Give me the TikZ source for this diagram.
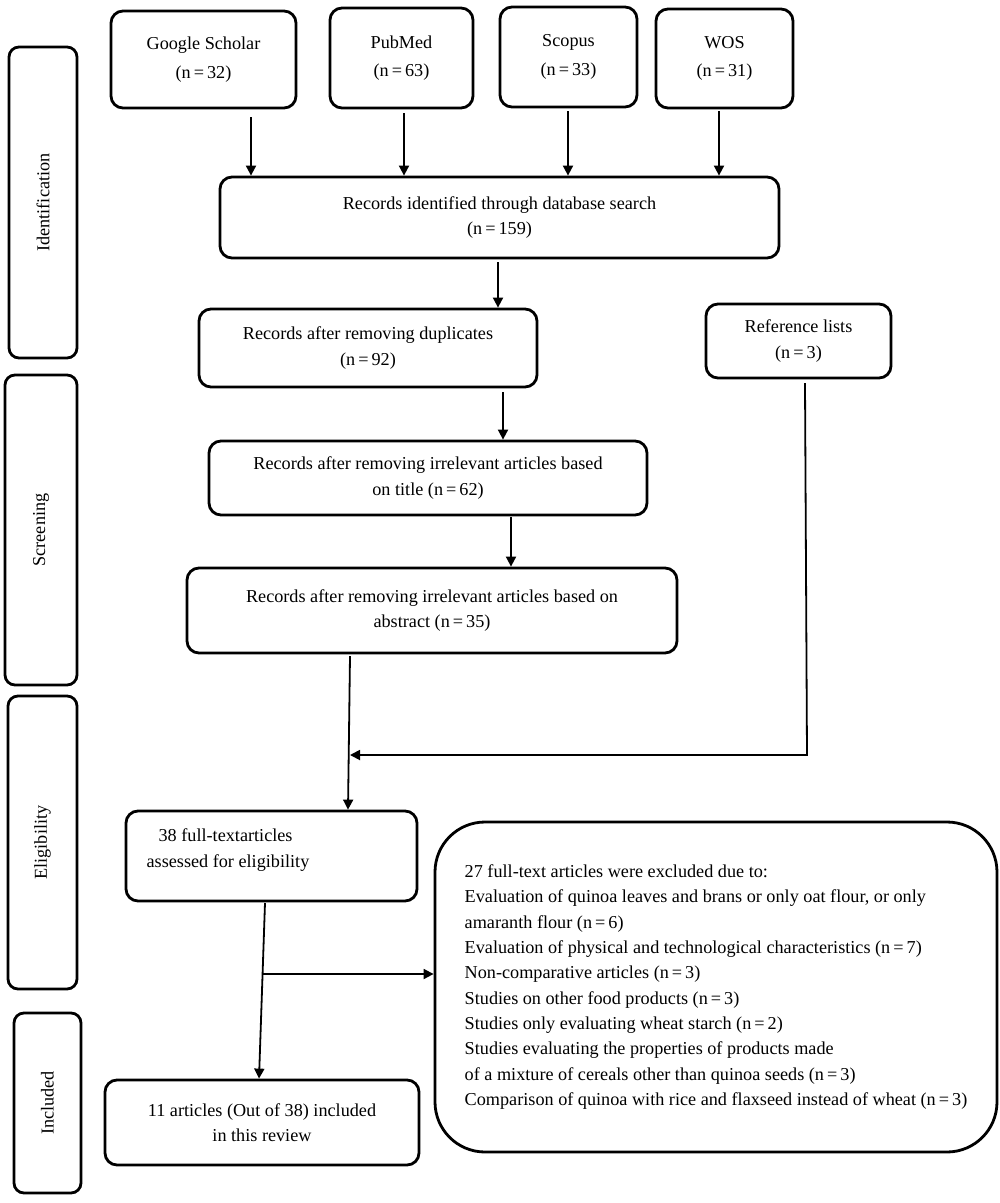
\documentclass[tikz,border=0pt]{standalone}
\usepackage{fontspec}
\setmainfont{Liberation Serif}
\usetikzlibrary{arrows.meta}
\newcommand\fs{\fontsize{18.2}{25.5}\selectfont}
\begin{document}
\begin{tikzpicture}[x=1pt,y=1pt,
  box/.style={draw, line width=2.8pt, rounded corners=12pt, inner sep=0pt, align=center, font=\fs},
  side/.style={box, rounded corners=10pt, rotate=90},
  txt/.style={inner sep=0pt, font=\fs},
  arr/.style={line width=1.8pt, -{Triangle[length=10pt,width=10pt]}},
  conn/.style={line width=1.8pt}
]
\useasboundingbox (0,0) rectangle (1000,-1203);

% stage labels
\node[side, minimum width=311pt, minimum height=68pt] (sid) at (43,-202.5) {Identification};
\node[side, minimum width=310pt, minimum height=72pt] (ssc) at (41,-530) {Screening};
\node[side, minimum width=293pt, minimum height=69pt] (sel) at (42.5,-842.5) {Eligibility};
\node[side, minimum width=180pt, minimum height=67pt] (sin) at (47.5,-1103) {Included};

% sources
\node[box, minimum width=185pt, minimum height=97pt] (gs) at (203.5,-59.5) {Google Scholar\\[3pt](n\,=\,32)};
\node[box, minimum width=143pt, minimum height=100pt] (pm) at (401.5,-58) {PubMed\\[3pt](n\,=\,63)};
\node[box, minimum width=137pt, minimum height=100pt] (sc) at (568.5,-57) {Scopus\\[3pt](n\,=\,33)};
\node[box, minimum width=137pt, minimum height=99pt] (wos) at (724.5,-58.5) {WOS\\[3pt](n\,=\,31)};

% main flow
\node[box, minimum width=559pt, minimum height=81pt] (rid) at (499.5,-217.5) {Records identified through database search\\(n\,=\,159)};
\node[box, minimum width=338pt, minimum height=78pt] (dup) at (368,-348) {Records after removing duplicates\\(n\,=\,92)};
\node[box, minimum width=185pt, minimum height=74pt] (ref) at (798.5,-341) {Reference lists\\(n\,=\,3)};
\node[box, minimum width=438pt, minimum height=74pt] (tit) at (428,-478) {Records after removing irrelevant articles based\\on title (n\,=\,62)};
\node[box, minimum width=490pt, minimum height=85pt] (abs) at (432,-610.5) {Records after removing irrelevant articles based on\\abstract (n\,=\,35)};
\node[box, minimum width=291pt, minimum height=90pt] (full) at (271.5,-856) {};
\node[txt, align=left] (fullt) at (228,-850) {\hspace*{12pt}38 full-textarticles\\assessed for eligibility};
\node[box, minimum width=314pt, minimum height=85pt] (inc) at (262,-1122.5) {11 articles (Out of 38) included\\in this review};
\node[box, rounded corners=50pt, minimum width=562pt, minimum height=330pt, align=left,
      font=\fontsize{18.2}{25.3}\selectfont] (exc) at (716,-987) {27 full-text articles were excluded due to:\\
Evaluation of quinoa leaves and brans or only oat flour, or only\\
amaranth flour (n\,=\,6)\\
Evaluation of physical and technological characteristics (n\,=\,7)\\
Non-comparative articles (n\,=\,3)\\
Studies on other food products (n\,=\,3)\\
Studies only evaluating wheat starch (n\,=\,2)\\
Studies evaluating the properties of products made\\
of a mixture of cereals other than quinoa seeds (n\,=\,3)\\
Comparison of quinoa with rice and flaxseed instead of wheat (n\,=\,3)};

% connector start points
\coordinate (a1) at (251,-117);
\coordinate (a2) at (404,-113);
\coordinate (a3) at (568,-111);
\coordinate (a4) at (719,-111);
\coordinate (b1) at (498,-262);
\coordinate (b2) at (503,-392);
\coordinate (b3) at (511,-517);
\coordinate (c1) at (350,-656);
\coordinate (c2) at (348,-811);
\coordinate (r1) at (805,-383);
\coordinate (r2) at (807,-755);
\coordinate (r3) at (350,-755);
\coordinate (d1) at (265,-903);
\coordinate (d2) at (259,-1080);
\coordinate (e1) at (263,-974);

\draw[arr] (a1) -- (a1 |- rid.north);
\draw[arr] (a2) -- (a2 |- rid.north);
\draw[arr] (a3) -- (a3 |- rid.north);
\draw[arr] (a4) -- (a4 |- rid.north);
\draw[arr] (b1) -- (b1 |- dup.north);
\draw[arr] (b2) -- (b2 |- tit.north);
\draw[arr] (b3) -- (b3 |- abs.north);
\draw[arr] (c1) -- (c2 |- full.north);
\draw[arr] (r1) -- (r2) -- (r3);
\draw[arr] (d1) -- (d2 |- inc.north);
\draw[arr] (e1) -- (e1 -| exc.west);
\end{tikzpicture}
\end{document}
